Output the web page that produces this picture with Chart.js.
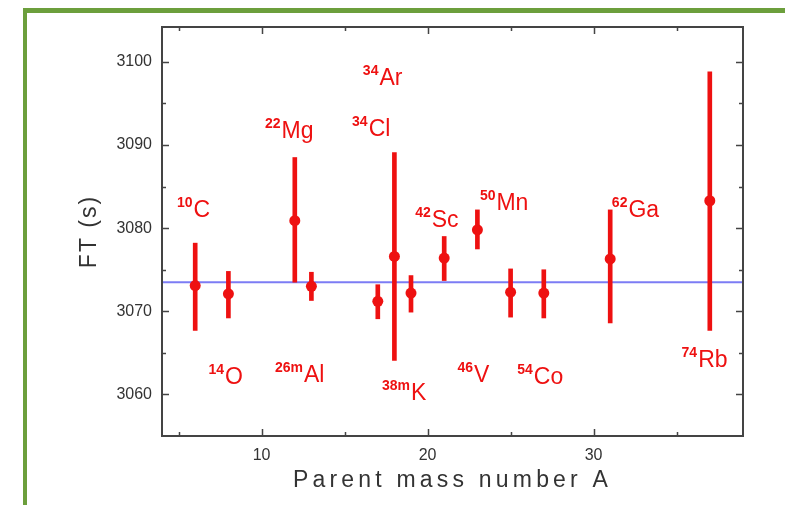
<!DOCTYPE html>
<html>
<head>
<meta charset="utf-8">
<title>Ft values of superallowed beta emitters</title>
<script src="https://cdn.jsdelivr.net/npm/chart.js@4.4.1/dist/chart.umd.min.js"></script>
<style>
  html, body { margin: 0; padding: 0; background: #fff; }
  #wrap { position: relative; width: 785px; height: 505px; overflow: hidden; }
  #frame {
    position: absolute; left: 23px; top: 8px; right: -20px; bottom: -20px;
    border-top: 5px solid #6c9f3c; border-left: 4px solid #6c9f3c;
    pointer-events: none;
  }
</style>
</head>
<body>
<div id="wrap">
  <canvas id="ftChart" width="785" height="505"></canvas>
  <div id="frame"></div>
</div>
<script>
// parent mass number (plotted position) and Ft value with its error bar
var massA   = [6, 8, 12, 13, 17, 18, 19, 21, 23, 25, 27, 31, 37];
var ftValue = [3073.1, 3072.1, 3080.9, 3073.0, 3071.2, 3076.6, 3072.2, 3076.4, 3079.8, 3072.3, 3072.2, 3076.3, 3083.3];
var errUp   = [5.1, 2.7, 7.6, 1.7, 2.0, 12.5, 2.1, 2.6, 2.4, 2.8, 2.8, 5.9, 15.5];
var errDown = [5.4, 2.9, 7.4, 1.7, 2.1, 12.5, 2.3, 2.7, 2.3, 3.0, 3.0, 7.7, 15.6];
var ftAverage = 3073.5;

// isotope names: mass number (superscript) + element
var isoMass   = ['10', '14', '22', '26m', '34', '34', '38m', '42', '46', '50', '54', '62', '74'];
var isoSymbol = ['C', 'O', 'Mg', 'Al', 'Cl', 'Ar', 'K', 'Sc', 'V', 'Mn', 'Co', 'Ga', 'Rb'];
// where each name sits, in axis units (left edge, baseline)
var nameAtA  = [4.9, 6.8, 10.2, 10.8, 15.45, 16.1, 17.25, 19.25, 21.8, 23.15, 25.4, 31.1, 35.3];
var nameAtFt = [3081.4, 3061.2, 3090.8, 3061.5, 3091.1, 3097.2, 3059.3, 3080.1, 3061.5, 3082.2, 3061.2, 3081.3, 3063.3];

// axis ticks
var xLabelTicks = [10, 20, 30];
var xTickMarks  = [5, 10, 15, 20, 25, 30, 35];
var yLabelTicks = [3060, 3070, 3080, 3090, 3100];
var yTickMarks  = [3060, 3065, 3070, 3075, 3080, 3085, 3090, 3095, 3100];

var RED = '#ee1111';
var AXIS = '#444444';

Chart.defaults.font.family = "'Liberation Sans', Arial, sans-serif";
Chart.defaults.color = '#333333';

// letter spacing for the axis titles (patched into each scale's drawTitle)
var titleSpacing = { x: '4.2px', y: '2px' };
var spacedTitles = {
  id: 'spacedTitles',
  beforeDraw: function (chart) {
    Object.keys(chart.scales).forEach(function (id) {
      var scale = chart.scales[id];
      if (scale._spacedTitle) return;
      var orig = scale.drawTitle;
      scale.drawTitle = function () {
        var ctx = this.ctx;
        ctx.save();
        ctx.letterSpacing = titleSpacing[id] || '0px';
        orig.apply(this, arguments);
        ctx.restore();
      };
      scale._spacedTitle = true;
    });
  }
};

// box around the plot with inward tick marks on all four sides
var boxTicks = {
  id: 'boxTicks',
  afterDatasetsDraw: function (chart) {
    var ctx = chart.ctx, a = chart.chartArea;
    var xs = chart.scales.x, ys = chart.scales.y;
    ctx.save();
    ctx.strokeStyle = AXIS;
    ctx.lineWidth = 2;
    ctx.strokeRect(a.left, a.top, a.right - a.left, a.bottom - a.top);
    ctx.lineWidth = 1.5;
    ctx.beginPath();
    xTickMarks.forEach(function (v) {
      var px = Math.round(xs.getPixelForValue(v)) + 0.5;
      var len = xLabelTicks.indexOf(v) >= 0 ? 7 : 4;
      ctx.moveTo(px, a.bottom); ctx.lineTo(px, a.bottom - len);
      ctx.moveTo(px, a.top); ctx.lineTo(px, a.top + len);
    });
    yTickMarks.forEach(function (v) {
      var py = Math.round(ys.getPixelForValue(v)) + 0.5;
      var len = yLabelTicks.indexOf(v) >= 0 ? 7 : 4;
      ctx.moveTo(a.left, py); ctx.lineTo(a.left + len, py);
      ctx.moveTo(a.right, py); ctx.lineTo(a.right - len, py);
    });
    ctx.stroke();
    ctx.restore();
  }
};

// isotope names with superscript mass numbers
var isotopeNames = {
  id: 'isotopeNames',
  afterDraw: function (chart) {
    var ctx = chart.ctx;
    var xs = chart.scales.x, ys = chart.scales.y;
    ctx.save();
    ctx.fillStyle = RED;
    ctx.textBaseline = 'alphabetic';
    ctx.textAlign = 'left';
    for (var i = 0; i < isoSymbol.length; i++) {
      var x = xs.getPixelForValue(nameAtA[i]);
      var y = ys.getPixelForValue(nameAtFt[i]);
      ctx.font = "bold 14px 'Liberation Sans', Arial, sans-serif";
      ctx.fillText(isoMass[i], x, y - 10);
      var w = ctx.measureText(isoMass[i]).width;
      ctx.font = "23px 'Liberation Sans', Arial, sans-serif";
      ctx.fillText(isoSymbol[i], x + w + 1, y);
    }
    ctx.restore();
  }
};

var tickFont = { size: 16 };

new Chart(document.getElementById('ftChart'), {
  type: 'scatter',
  data: {
    datasets: [
      {
        type: 'scatter',
        data: massA.map(function (a, i) { return { x: a, y: ftValue[i] }; }),
        backgroundColor: RED,
        borderWidth: 0,
        pointRadius: 5.5,
        order: 1
      },
      {
        type: 'bar',
        data: massA.map(function (a, i) {
          return { x: a, y: [ftValue[i] - errDown[i], ftValue[i] + errUp[i]] };
        }),
        backgroundColor: RED,
        borderWidth: 0,
        borderSkipped: false,
        barThickness: 4,
        order: 2
      },
      {
        type: 'line',
        data: [{ x: 4, y: ftAverage }, { x: 39, y: ftAverage }],
        borderColor: 'rgba(80, 80, 240, 0.75)',
        borderWidth: 2,
        pointRadius: 0,
        fill: false,
        order: 3
      }
    ]
  },
  options: {
    responsive: false,
    animation: false,
    layout: { padding: { left: 0, top: 27, right: 42, bottom: 0 } },
    plugins: {
      legend: { display: false },
      tooltip: { enabled: false }
    },
    scales: {
      x: {
        type: 'linear',
        min: 4,
        max: 39,
        offset: false,
        afterFit: function (s) { s.height = 69; },
        afterBuildTicks: function (s) {
          s.ticks = xLabelTicks.map(function (v) { return { value: v }; });
        },
        grid: { display: false, drawTicks: false, offset: false },
        border: { display: false },
        ticks: {
          padding: 10,
          maxRotation: 0,
          font: tickFont,
          color: '#333333',
          callback: function (v) { return String(v); }
        },
        title: {
          display: true,
          text: 'Parent mass number A',
          color: '#333333',
          font: { size: 23 },
          padding: { top: 0, bottom: 11 }
        }
      },
      y: {
        type: 'linear',
        min: 3055,
        max: 3104.2,
        afterFit: function (s) { s.width = 162; },
        afterBuildTicks: function (s) {
          s.ticks = yLabelTicks.map(function (v) { return { value: v }; });
        },
        grid: { display: false, drawTicks: false },
        border: { display: false },
        ticks: {
          padding: 10,
          font: tickFont,
          color: '#333333',
          callback: function (v) { return String(v); }
        },
        title: {
          display: true,
          text: 'FT (s)',
          color: '#333333',
          font: { size: 23 },
          padding: { top: 76, bottom: 0 }
        }
      }
    }
  },
  plugins: [spacedTitles, boxTicks, isotopeNames]
});
</script>
</body>
</html>
